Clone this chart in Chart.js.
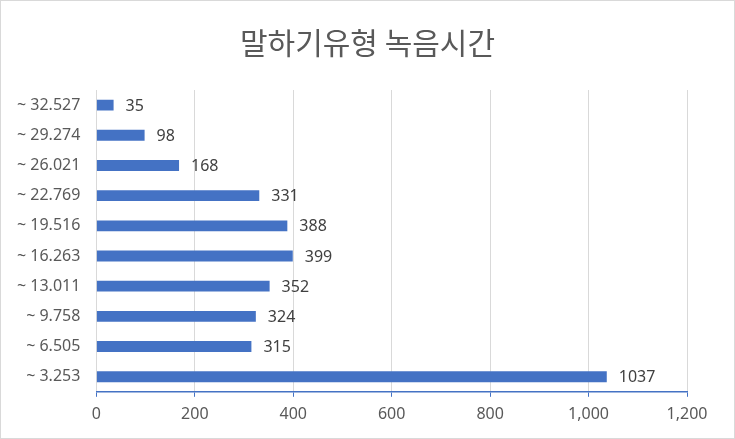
<!DOCTYPE html>
<html>
<head>
<meta charset="utf-8">
<script src="https://cdn.jsdelivr.net/npm/chart.js@4.4.1/dist/chart.umd.min.js"></script>
<style>
  html, body { margin: 0; padding: 0; background: #fff; }
  #wrap { width: 733px; height: 437px; border: 1px solid #d9d9d9; position: relative; }
</style>
</head>
<body>
<div id="wrap"><canvas id="chart"></canvas></div>
<script>
// bins, bottom to top as in the picture
const categories = ['~ 3.253', '~ 6.505', '~ 9.758', '~ 13.011', '~ 16.263', '~ 19.516', '~ 22.769', '~ 26.021', '~ 29.274', '~ 32.527'];
const counts = [1037, 315, 324, 352, 399, 388, 331, 168, 98, 35];
const titleText = '말하기유형 녹음시간';
const xMax = 1200;
const xStep = 200;

const FONT = "'Noto Sans', 'Noto Sans CJK KR', sans-serif";

// values next to each bar end, and the title centred on the whole canvas
const extraText = {
  id: 'extraText',
  afterDatasetsDraw(chart) {
    const ctx = chart.ctx;
    const meta = chart.getDatasetMeta(0);
    ctx.save();
    ctx.font = '16px ' + FONT;
    ctx.fillStyle = '#404040';
    ctx.textBaseline = 'middle';
    ctx.textAlign = 'left';
    meta.data.forEach((bar, i) => {
      ctx.fillText(String(counts[i]), bar.x + 12, bar.y + 1);
    });

    ctx.font = "30px 'Noto Sans CJK KR', sans-serif";
    ctx.fillStyle = '#595959';
    ctx.textAlign = 'center';
    ctx.fillText(titleText, chart.width / 2, 42);
    ctx.restore();
  }
};

new Chart(document.getElementById('chart'), {
  type: 'bar',
  data: {
    labels: categories,
    datasets: [{
      data: counts,
      backgroundColor: '#4472C4',
      borderWidth: 0,
      categoryPercentage: 0.72,
      barPercentage: 0.5
    }]
  },
  options: {
    indexAxis: 'y',
    responsive: true,
    maintainAspectRatio: false,
    animation: false,
    layout: { padding: { left: 0, right: 47, top: 89, bottom: 6 } },
    scales: {
      x: {
        min: 0,
        max: xMax,
        ticks: {
          stepSize: xStep,
          color: '#595959',
          font: { family: FONT, size: 16 },
          padding: 8,
          callback: v => v.toLocaleString('en-US')
        },
        grid: {
          color: '#d9d9d9',
          tickColor: '#4472C4',
          tickLength: 5,
          drawTicks: true
        },
        border: { display: true, color: '#4472C4', width: 1.5 }
      },
      y: {
        reverse: true,
        ticks: {
          color: '#595959',
          font: { family: FONT, size: 16 },
          padding: 16
        },
        grid: { display: false, drawTicks: false },
        border: { display: false }
      }
    },
    plugins: {
      legend: { display: false },
      tooltip: { enabled: false },
      title: { display: false }
    }
  },
  plugins: [extraText]
});
</script>
</body>
</html>
